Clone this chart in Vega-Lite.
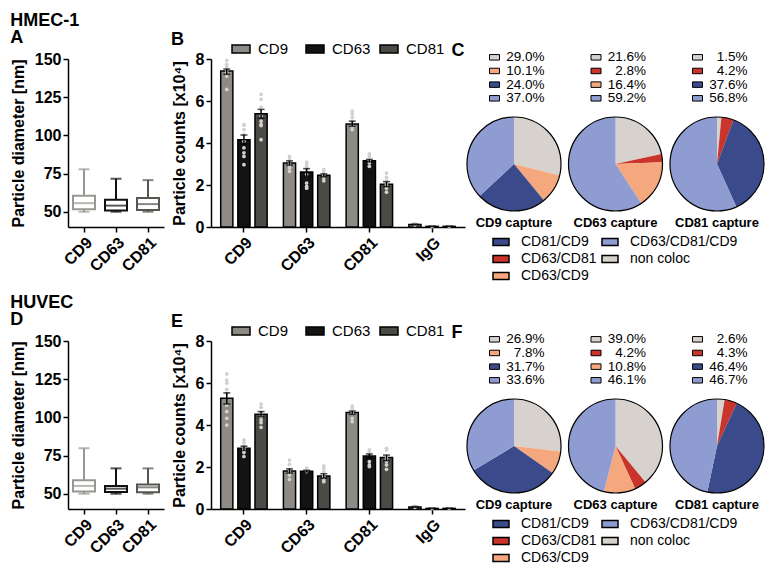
{
"$schema": "https://vega.github.io/schema/vega-lite/v6.json",
"padding": {"left": 10, "top": 12, "right": 5, "bottom": 5},
"background": "white",
"config": {
 "font": "Liberation Sans",
 "view": {"stroke": null},
 "axis": {"domainColor": "black", "domainWidth": 1.5, "tickColor": "black", "tickWidth": 1.5, "tickSize": 5, "labelFontSize": 16, "labelFontWeight": "bold", "labelColor": "black", "titleFontSize": 16, "titleFontWeight": "bold", "titleColor": "black", "grid": false, "labelPadding": 2, "titlePadding": 8},
 "axisX": {"labelAngle": -45},
 "title": {"anchor": "start", "fontSize": 18, "fontWeight": "bold", "color": "black"},
 "legend": {"labelColor": "black"}
},
"datasets": {
 "boxA": [
  {"m": "CD9", "min": 50, "q1": 51.6, "med": 55.6, "q3": 60.5, "max": 77.8},
  {"m": "CD63", "min": 50, "q1": 50.8, "med": 54, "q3": 57.8, "max": 71.6},
  {"m": "CD81", "min": 50, "q1": 51.1, "med": 55, "q3": 59, "max": 70.7}
 ],
 "boxD": [
  {"m": "CD9", "min": 50, "q1": 51.5, "med": 55.1, "q3": 58.8, "max": 79.8},
  {"m": "CD63", "min": 50, "q1": 51.1, "med": 53.3, "q3": 55.1, "max": 66.6},
  {"m": "CD81", "min": 50, "q1": 51, "med": 54.2, "q3": 56, "max": 66.6}
 ],
 "barsB": [
  {"cap": "CD9", "det": "CD9", "mean": 7.43, "lo": 7.27, "hi": 7.52},
  {"cap": "CD9", "det": "CD63", "mean": 4.16, "lo": 3.95, "hi": 4.38},
  {"cap": "CD9", "det": "CD81", "mean": 5.39, "lo": 5.18, "hi": 5.6},
  {"cap": "CD63", "det": "CD9", "mean": 3.05, "lo": 2.95, "hi": 3.15},
  {"cap": "CD63", "det": "CD63", "mean": 2.62, "lo": 2.42, "hi": 2.78},
  {"cap": "CD63", "det": "CD81", "mean": 2.46, "lo": 2.39, "hi": 2.53},
  {"cap": "CD81", "det": "CD9", "mean": 4.91, "lo": 4.8, "hi": 5.04},
  {"cap": "CD81", "det": "CD63", "mean": 3.16, "lo": 3.1, "hi": 3.22},
  {"cap": "CD81", "det": "CD81", "mean": 2.04, "lo": 1.92, "hi": 2.16},
  {"cap": "IgG", "det": "CD9", "mean": 0.12, "lo": 0.1, "hi": 0.14},
  {"cap": "IgG", "det": "CD63", "mean": 0.03, "lo": 0.02, "hi": 0.04},
  {"cap": "IgG", "det": "CD81", "mean": 0.03, "lo": 0.02, "hi": 0.04}
 ],
 "barsE": [
  {"cap": "CD9", "det": "CD9", "mean": 5.27, "lo": 5.0, "hi": 5.53},
  {"cap": "CD9", "det": "CD63", "mean": 2.89, "lo": 2.79, "hi": 2.99},
  {"cap": "CD9", "det": "CD81", "mean": 4.51, "lo": 4.4, "hi": 4.64},
  {"cap": "CD63", "det": "CD9", "mean": 1.81, "lo": 1.71, "hi": 1.91},
  {"cap": "CD63", "det": "CD63", "mean": 1.8, "lo": 1.76, "hi": 1.84},
  {"cap": "CD63", "det": "CD81", "mean": 1.57, "lo": 1.47, "hi": 1.68},
  {"cap": "CD81", "det": "CD9", "mean": 4.59, "lo": 4.51, "hi": 4.67},
  {"cap": "CD81", "det": "CD63", "mean": 2.52, "lo": 2.42, "hi": 2.62},
  {"cap": "CD81", "det": "CD81", "mean": 2.45, "lo": 2.3, "hi": 2.57},
  {"cap": "IgG", "det": "CD9", "mean": 0.1, "lo": 0.08, "hi": 0.12},
  {"cap": "IgG", "det": "CD63", "mean": 0.03, "lo": 0.02, "hi": 0.04},
  {"cap": "IgG", "det": "CD81", "mean": 0.03, "lo": 0.02, "hi": 0.04}
 ],
 "dotsB": [
  {"cap": "CD9", "det": "CD9", "v": 7.94}, {"cap": "CD9", "det": "CD9", "v": 7.75}, {"cap": "CD9", "det": "CD9", "v": 7.62}, {"cap": "CD9", "det": "CD9", "v": 7.51}, {"cap": "CD9", "det": "CD9", "v": 7.35}, {"cap": "CD9", "det": "CD9", "v": 7.19}, {"cap": "CD9", "det": "CD9", "v": 6.55},
  {"cap": "CD9", "det": "CD63", "v": 4.88}, {"cap": "CD9", "det": "CD63", "v": 4.85}, {"cap": "CD9", "det": "CD63", "v": 4.64}, {"cap": "CD9", "det": "CD63", "v": 4.4}, {"cap": "CD9", "det": "CD63", "v": 4.08}, {"cap": "CD9", "det": "CD63", "v": 3.77}, {"cap": "CD9", "det": "CD63", "v": 3.53}, {"cap": "CD9", "det": "CD63", "v": 3.36}, {"cap": "CD9", "det": "CD63", "v": 2.97},
  {"cap": "CD9", "det": "CD81", "v": 6.32}, {"cap": "CD9", "det": "CD81", "v": 6.08}, {"cap": "CD9", "det": "CD81", "v": 5.71}, {"cap": "CD9", "det": "CD81", "v": 5.28}, {"cap": "CD9", "det": "CD81", "v": 5.04}, {"cap": "CD9", "det": "CD81", "v": 4.88}, {"cap": "CD9", "det": "CD81", "v": 4.83}, {"cap": "CD9", "det": "CD81", "v": 4.16},
  {"cap": "CD63", "det": "CD9", "v": 3.36}, {"cap": "CD63", "det": "CD9", "v": 3.29}, {"cap": "CD63", "det": "CD9", "v": 3.16}, {"cap": "CD63", "det": "CD9", "v": 2.97}, {"cap": "CD63", "det": "CD9", "v": 2.81}, {"cap": "CD63", "det": "CD9", "v": 2.65},
  {"cap": "CD63", "det": "CD63", "v": 3.09}, {"cap": "CD63", "det": "CD63", "v": 3.0}, {"cap": "CD63", "det": "CD63", "v": 2.89}, {"cap": "CD63", "det": "CD63", "v": 2.73}, {"cap": "CD63", "det": "CD63", "v": 2.49}, {"cap": "CD63", "det": "CD63", "v": 2.09}, {"cap": "CD63", "det": "CD63", "v": 1.93}, {"cap": "CD63", "det": "CD63", "v": 1.85},
  {"cap": "CD63", "det": "CD81", "v": 2.73}, {"cap": "CD63", "det": "CD81", "v": 2.62}, {"cap": "CD63", "det": "CD81", "v": 2.49}, {"cap": "CD63", "det": "CD81", "v": 2.33}, {"cap": "CD63", "det": "CD81", "v": 2.2},
  {"cap": "CD81", "det": "CD9", "v": 5.52}, {"cap": "CD81", "det": "CD9", "v": 5.39}, {"cap": "CD81", "det": "CD9", "v": 5.23}, {"cap": "CD81", "det": "CD9", "v": 5.04}, {"cap": "CD81", "det": "CD9", "v": 4.8}, {"cap": "CD81", "det": "CD9", "v": 4.64},
  {"cap": "CD81", "det": "CD63", "v": 3.48}, {"cap": "CD81", "det": "CD63", "v": 3.36}, {"cap": "CD81", "det": "CD63", "v": 3.16}, {"cap": "CD81", "det": "CD63", "v": 3.05}, {"cap": "CD81", "det": "CD63", "v": 2.89},
  {"cap": "CD81", "det": "CD81", "v": 2.57}, {"cap": "CD81", "det": "CD81", "v": 2.36}, {"cap": "CD81", "det": "CD81", "v": 2.2}, {"cap": "CD81", "det": "CD81", "v": 2.01}, {"cap": "CD81", "det": "CD81", "v": 1.85}, {"cap": "CD81", "det": "CD81", "v": 1.66},
  {"cap": "IgG", "det": "CD9", "v": 0.15}, {"cap": "IgG", "det": "CD9", "v": 0.1}, {"cap": "IgG", "det": "CD63", "v": 0.02}, {"cap": "IgG", "det": "CD81", "v": 0.02}
 ],
 "dotsE": [
  {"cap": "CD9", "det": "CD9", "v": 6.43}, {"cap": "CD9", "det": "CD9", "v": 6.14}, {"cap": "CD9", "det": "CD9", "v": 5.99}, {"cap": "CD9", "det": "CD9", "v": 5.7}, {"cap": "CD9", "det": "CD9", "v": 5.51}, {"cap": "CD9", "det": "CD9", "v": 4.95}, {"cap": "CD9", "det": "CD9", "v": 4.64}, {"cap": "CD9", "det": "CD9", "v": 4.32}, {"cap": "CD9", "det": "CD9", "v": 4.0},
  {"cap": "CD9", "det": "CD63", "v": 3.29}, {"cap": "CD9", "det": "CD63", "v": 3.16}, {"cap": "CD9", "det": "CD63", "v": 3.0}, {"cap": "CD9", "det": "CD63", "v": 2.84}, {"cap": "CD9", "det": "CD63", "v": 2.78}, {"cap": "CD9", "det": "CD63", "v": 2.69}, {"cap": "CD9", "det": "CD63", "v": 2.5},
  {"cap": "CD9", "det": "CD81", "v": 5.0}, {"cap": "CD9", "det": "CD81", "v": 4.84}, {"cap": "CD9", "det": "CD81", "v": 4.59}, {"cap": "CD9", "det": "CD81", "v": 4.4}, {"cap": "CD9", "det": "CD81", "v": 4.24}, {"cap": "CD9", "det": "CD81", "v": 4.11}, {"cap": "CD9", "det": "CD81", "v": 3.89},
  {"cap": "CD63", "det": "CD9", "v": 2.33}, {"cap": "CD63", "det": "CD9", "v": 2.13}, {"cap": "CD63", "det": "CD9", "v": 1.89}, {"cap": "CD63", "det": "CD9", "v": 1.73}, {"cap": "CD63", "det": "CD9", "v": 1.62}, {"cap": "CD63", "det": "CD9", "v": 1.41},
  {"cap": "CD63", "det": "CD63", "v": 1.95}, {"cap": "CD63", "det": "CD63", "v": 1.87}, {"cap": "CD63", "det": "CD63", "v": 1.82}, {"cap": "CD63", "det": "CD63", "v": 1.78},
  {"cap": "CD63", "det": "CD81", "v": 2.05}, {"cap": "CD63", "det": "CD81", "v": 1.94}, {"cap": "CD63", "det": "CD81", "v": 1.78}, {"cap": "CD63", "det": "CD81", "v": 1.54}, {"cap": "CD63", "det": "CD81", "v": 1.38}, {"cap": "CD63", "det": "CD81", "v": 1.3},
  {"cap": "CD81", "det": "CD9", "v": 4.9}, {"cap": "CD81", "det": "CD9", "v": 4.8}, {"cap": "CD81", "det": "CD9", "v": 4.56}, {"cap": "CD81", "det": "CD9", "v": 4.32}, {"cap": "CD81", "det": "CD9", "v": 4.16},
  {"cap": "CD81", "det": "CD63", "v": 2.81}, {"cap": "CD81", "det": "CD63", "v": 2.73}, {"cap": "CD81", "det": "CD63", "v": 2.65}, {"cap": "CD81", "det": "CD63", "v": 2.26}, {"cap": "CD81", "det": "CD63", "v": 2.1}, {"cap": "CD81", "det": "CD63", "v": 2.02},
  {"cap": "CD81", "det": "CD81", "v": 2.89}, {"cap": "CD81", "det": "CD81", "v": 2.81}, {"cap": "CD81", "det": "CD81", "v": 2.41}, {"cap": "CD81", "det": "CD81", "v": 2.26}, {"cap": "CD81", "det": "CD81", "v": 2.1}, {"cap": "CD81", "det": "CD81", "v": 1.89},
  {"cap": "IgG", "det": "CD9", "v": 0.12}, {"cap": "IgG", "det": "CD9", "v": 0.08}, {"cap": "IgG", "det": "CD63", "v": 0.02}, {"cap": "IgG", "det": "CD81", "v": 0.02}
 ],
 "pieC": [
  {"cap": "CD9 capture", "cat": "non coloc", "pct": 29.0, "lab": "29.0%", "ord": 1},
  {"cap": "CD9 capture", "cat": "CD63/CD9", "pct": 10.1, "lab": "10.1%", "ord": 2},
  {"cap": "CD9 capture", "cat": "CD81/CD9", "pct": 24.0, "lab": "24.0%", "ord": 3},
  {"cap": "CD9 capture", "cat": "CD63/CD81/CD9", "pct": 37.0, "lab": "37.0%", "ord": 4},
  {"cap": "CD63 capture", "cat": "non coloc", "pct": 21.6, "lab": "21.6%", "ord": 1},
  {"cap": "CD63 capture", "cat": "CD63/CD81", "pct": 2.8, "lab": "2.8%", "ord": 2},
  {"cap": "CD63 capture", "cat": "CD63/CD9", "pct": 16.4, "lab": "16.4%", "ord": 3},
  {"cap": "CD63 capture", "cat": "CD63/CD81/CD9", "pct": 59.2, "lab": "59.2%", "ord": 4},
  {"cap": "CD81 capture", "cat": "non coloc", "pct": 1.5, "lab": "1.5%", "ord": 1},
  {"cap": "CD81 capture", "cat": "CD63/CD81", "pct": 4.2, "lab": "4.2%", "ord": 2},
  {"cap": "CD81 capture", "cat": "CD81/CD9", "pct": 37.6, "lab": "37.6%", "ord": 3},
  {"cap": "CD81 capture", "cat": "CD63/CD81/CD9", "pct": 56.8, "lab": "56.8%", "ord": 4}
 ],
 "pieF": [
  {"cap": "CD9 capture", "cat": "non coloc", "pct": 26.9, "lab": "26.9%", "ord": 1},
  {"cap": "CD9 capture", "cat": "CD63/CD9", "pct": 7.8, "lab": "7.8%", "ord": 2},
  {"cap": "CD9 capture", "cat": "CD81/CD9", "pct": 31.7, "lab": "31.7%", "ord": 3},
  {"cap": "CD9 capture", "cat": "CD63/CD81/CD9", "pct": 33.6, "lab": "33.6%", "ord": 4},
  {"cap": "CD63 capture", "cat": "non coloc", "pct": 39.0, "lab": "39.0%", "ord": 1},
  {"cap": "CD63 capture", "cat": "CD63/CD81", "pct": 4.2, "lab": "4.2%", "ord": 2},
  {"cap": "CD63 capture", "cat": "CD63/CD9", "pct": 10.8, "lab": "10.8%", "ord": 3},
  {"cap": "CD63 capture", "cat": "CD63/CD81/CD9", "pct": 46.1, "lab": "46.1%", "ord": 4},
  {"cap": "CD81 capture", "cat": "non coloc", "pct": 2.6, "lab": "2.6%", "ord": 1},
  {"cap": "CD81 capture", "cat": "CD63/CD81", "pct": 4.3, "lab": "4.3%", "ord": 2},
  {"cap": "CD81 capture", "cat": "CD81/CD9", "pct": 46.4, "lab": "46.4%", "ord": 3},
  {"cap": "CD81 capture", "cat": "CD63/CD81/CD9", "pct": 46.7, "lab": "46.7%", "ord": 4}
 ]
},
"spacing": 11,
"resolve": {"scale": {"fill": "independent", "stroke": "independent", "color": "independent", "theta": "independent"}},
"vconcat": [
 {
  "title": {"text": "HMEC-1", "offset": -1},
  "bounds": "full",
  "spacing": -14,
  "resolve": {"scale": {"fill": "independent", "stroke": "independent", "color": "independent", "theta": "independent"}},
  "hconcat": [
   {
    "bounds": "flush",
    "spacing": 47,
    "resolve": {"scale": {"fill": "independent", "stroke": "independent", "color": "independent"}},
    "hconcat": [
     {
      "title": {"text": "A", "offset": 4},
      "width": 96, "height": 168,
      "data": {"name": "boxA"},
      "encoding": {"x": {"field": "m", "type": "nominal", "sort": ["CD9", "CD63", "CD81"], "scale": {"paddingInner": 0, "paddingOuter": 0}, "axis": {"title": null}}},
      "layer": [
       {"mark": {"type": "rule", "strokeWidth": 2}, "encoding": {"y": {"field": "min", "type": "quantitative", "title": "Particle diameter [nm]", "scale": {"domain": [40, 150], "nice": false, "zero": false}, "axis": {"values": [50, 75, 100, 125, 150]}}, "y2": {"field": "max"}, "color": {"field": "m", "type": "nominal", "scale": {"domain": ["CD9", "CD63", "CD81"], "range": ["#9a9792", "#111111", "#575550"]}, "legend": null}}},
       {"mark": {"type": "bar", "size": 22, "fill": "white", "strokeWidth": 2}, "encoding": {"y": {"field": "q1", "type": "quantitative", "title": "Particle diameter [nm]"}, "y2": {"field": "q3"}, "stroke": {"field": "m", "type": "nominal", "scale": {"domain": ["CD9", "CD63", "CD81"], "range": ["#9a9792", "#111111", "#575550"]}, "legend": null}}},
       {"mark": {"type": "tick", "size": 22, "thickness": 2}, "encoding": {"y": {"field": "med", "type": "quantitative", "title": "Particle diameter [nm]"}, "color": {"field": "m", "type": "nominal", "legend": null}}},
       {"mark": {"type": "tick", "size": 11, "thickness": 2}, "encoding": {"y": {"field": "max", "type": "quantitative", "title": "Particle diameter [nm]"}, "color": {"field": "m", "type": "nominal", "legend": null}}},
       {"mark": {"type": "tick", "size": 11, "thickness": 2}, "encoding": {"y": {"field": "min", "type": "quantitative", "title": "Particle diameter [nm]"}, "color": {"field": "m", "type": "nominal", "legend": null}}}
      ]
     },
     {
      "title": {"text": "B", "offset": -10},
      "width": 254, "height": 168,
      "encoding": {
       "x": {"field": "cap", "type": "nominal", "sort": ["CD9", "CD63", "CD81", "IgG"], "scale": {"paddingInner": 0.15, "paddingOuter": 0.1}, "axis": {"title": null}},
       "xOffset": {"field": "det", "type": "nominal", "sort": ["CD9", "CD63", "CD81"], "scale": {"paddingInner": 0.29, "paddingOuter": 0.2}}
      },
      "layer": [
       {"data": {"name": "barsB"}, "mark": {"type": "bar", "stroke": "black", "strokeWidth": 1.5}, "encoding": {"y": {"field": "mean", "type": "quantitative", "title": "Particle counts [x10⁴]", "scale": {"domain": [0, 8], "nice": false}, "axis": {"values": [0, 2, 4, 6, 8]}}, "fill": {"field": "det", "type": "nominal", "sort": ["CD9", "CD63", "CD81"], "scale": {"domain": ["CD9", "CD63", "CD81"], "range": ["#8e8b87", "#141313", "#4b4a46"]}, "legend": {"title": null, "orient": "none", "direction": "horizontal", "legendX": 20, "legendY": -20, "symbolType": "M-1,-0.45L1,-0.45L1,0.45L-1,0.45Z", "symbolSize": 324, "symbolStrokeColor": "black", "symbolStrokeWidth": 1.5, "labelFontSize": 15, "labelOffset": 7, "columnPadding": 6, "gridAlign": "all"}}}},
       {"data": {"name": "dotsB"}, "mark": {"type": "point", "filled": true, "size": 14, "color": "#d4d0cc", "opacity": 1}, "encoding": {"y": {"field": "v", "type": "quantitative", "title": "Particle counts [x10⁴]"}}},
       {"data": {"name": "barsB"}, "mark": {"type": "rule", "color": "black", "strokeWidth": 1.5}, "encoding": {"y": {"field": "lo", "type": "quantitative", "title": "Particle counts [x10⁴]"}, "y2": {"field": "hi"}}},
       {"data": {"name": "barsB"}, "mark": {"type": "tick", "color": "black", "size": 7, "thickness": 1.5}, "encoding": {"y": {"field": "lo", "type": "quantitative", "title": "Particle counts [x10⁴]"}}},
       {"data": {"name": "barsB"}, "mark": {"type": "tick", "color": "black", "size": 7, "thickness": 1.5}, "encoding": {"y": {"field": "hi", "type": "quantitative", "title": "Particle counts [x10⁴]"}}}
      ]
     }
    ]
   },
   {
    "title": {"text": "C", "dx": -13, "offset": -10},
    "spacing": 2,
    "resolve": {"scale": {"fill": "independent", "theta": "independent"}},
    "vconcat": [
     {
      "spacing": 1.5,
      "resolve": {"scale": {"fill": "independent", "theta": "independent"}},
      "hconcat": [
       {"spacing": 9, "resolve": {"scale": {"fill": "independent"}}, "vconcat": [
        {"width": 94, "height": 45, "data": {"name": "pieC"}, "transform": [{"filter": "datum.cap === 'CD9 capture'"}],
         "encoding": {"y": {"field": "ord", "type": "quantitative", "axis": null, "scale": {"domain": [1.1244, 4.4171], "reverse": true, "nice": false, "zero": false}}},
         "layer": [
          {"mark": {"type": "point", "shape": "M-1,-0.55L1,-0.55L1,0.55L-1,0.55Z", "size": 100, "filled": true, "stroke": "black", "strokeWidth": 1, "opacity": 1}, "encoding": {"x": {"datum": 0, "type": "quantitative", "scale": {"domain": [-0.55, 1.33], "nice": false, "zero": false}, "axis": null}, "fill": {"field": "cat", "type": "nominal", "scale": {"domain": ["CD81/CD9", "CD63/CD81", "CD63/CD9", "CD63/CD81/CD9", "non coloc"], "range": ["#3a4a8a", "#c9342b", "#f5a87d", "#8e9cd2", "#d7d2cd"]}, "legend": null}}},
          {"mark": {"type": "text", "align": "right", "baseline": "middle", "fontSize": 13.5}, "encoding": {"x": {"datum": 1, "type": "quantitative", "axis": null}, "text": {"field": "lab"}}}
         ]},
        {"width": 94, "height": 94, "title": {"text": "CD9 capture", "orient": "bottom", "anchor": "middle", "fontSize": 13, "offset": 4}, "data": {"name": "pieC"}, "transform": [{"filter": "datum.cap === 'CD9 capture'"}],
         "layer": [
          {"mark": {"type": "arc"}, "encoding": {"theta": {"field": "pct", "type": "quantitative"}, "order": {"field": "ord", "type": "quantitative"}, "fill": {"field": "cat", "type": "nominal", "scale": {"domain": ["CD81/CD9", "CD63/CD81", "CD63/CD9", "CD63/CD81/CD9", "non coloc"], "range": ["#3a4a8a", "#c9342b", "#f5a87d", "#8e9cd2", "#d7d2cd"]}, "legend": null}}},
          {"transform": [{"aggregate": [{"op": "sum", "field": "pct", "as": "pct"}]}], "mark": {"type": "arc", "fillOpacity": 0, "stroke": "black", "strokeWidth": 1.2}, "encoding": {"theta": {"field": "pct", "type": "quantitative"}}}
         ]}
       ]},
       {"spacing": 9, "resolve": {"scale": {"fill": "independent"}}, "vconcat": [
        {"width": 94, "height": 45, "data": {"name": "pieC"}, "transform": [{"filter": "datum.cap === 'CD63 capture'"}],
         "encoding": {"y": {"field": "ord", "type": "quantitative", "axis": null, "scale": {"domain": [1.1244, 4.4171], "reverse": true, "nice": false, "zero": false}}},
         "layer": [
          {"mark": {"type": "point", "shape": "M-1,-0.55L1,-0.55L1,0.55L-1,0.55Z", "size": 100, "filled": true, "stroke": "black", "strokeWidth": 1, "opacity": 1}, "encoding": {"x": {"datum": 0, "type": "quantitative", "scale": {"domain": [-0.55, 1.33], "nice": false, "zero": false}, "axis": null}, "fill": {"field": "cat", "type": "nominal", "scale": {"domain": ["CD81/CD9", "CD63/CD81", "CD63/CD9", "CD63/CD81/CD9", "non coloc"], "range": ["#3a4a8a", "#c9342b", "#f5a87d", "#8e9cd2", "#d7d2cd"]}, "legend": null}}},
          {"mark": {"type": "text", "align": "right", "baseline": "middle", "fontSize": 13.5}, "encoding": {"x": {"datum": 1, "type": "quantitative", "axis": null}, "text": {"field": "lab"}}}
         ]},
        {"width": 94, "height": 94, "title": {"text": "CD63 capture", "orient": "bottom", "anchor": "middle", "fontSize": 13, "offset": 4}, "data": {"name": "pieC"}, "transform": [{"filter": "datum.cap === 'CD63 capture'"}],
         "layer": [
          {"mark": {"type": "arc"}, "encoding": {"theta": {"field": "pct", "type": "quantitative"}, "order": {"field": "ord", "type": "quantitative"}, "fill": {"field": "cat", "type": "nominal", "scale": {"domain": ["CD81/CD9", "CD63/CD81", "CD63/CD9", "CD63/CD81/CD9", "non coloc"], "range": ["#3a4a8a", "#c9342b", "#f5a87d", "#8e9cd2", "#d7d2cd"]}, "legend": null}}},
          {"transform": [{"aggregate": [{"op": "sum", "field": "pct", "as": "pct"}]}], "mark": {"type": "arc", "fillOpacity": 0, "stroke": "black", "strokeWidth": 1.2}, "encoding": {"theta": {"field": "pct", "type": "quantitative"}}}
         ]}
       ]},
       {"spacing": 9, "resolve": {"scale": {"fill": "independent"}}, "vconcat": [
        {"width": 94, "height": 45, "data": {"name": "pieC"}, "transform": [{"filter": "datum.cap === 'CD81 capture'"}],
         "encoding": {"y": {"field": "ord", "type": "quantitative", "axis": null, "scale": {"domain": [1.1244, 4.4171], "reverse": true, "nice": false, "zero": false}}},
         "layer": [
          {"mark": {"type": "point", "shape": "M-1,-0.55L1,-0.55L1,0.55L-1,0.55Z", "size": 100, "filled": true, "stroke": "black", "strokeWidth": 1, "opacity": 1}, "encoding": {"x": {"datum": 0, "type": "quantitative", "scale": {"domain": [-0.55, 1.33], "nice": false, "zero": false}, "axis": null}, "fill": {"field": "cat", "type": "nominal", "scale": {"domain": ["CD81/CD9", "CD63/CD81", "CD63/CD9", "CD63/CD81/CD9", "non coloc"], "range": ["#3a4a8a", "#c9342b", "#f5a87d", "#8e9cd2", "#d7d2cd"]}, "legend": null}}},
          {"mark": {"type": "text", "align": "right", "baseline": "middle", "fontSize": 13.5}, "encoding": {"x": {"datum": 1, "type": "quantitative", "axis": null}, "text": {"field": "lab"}}}
         ]},
        {"width": 94, "height": 94, "title": {"text": "CD81 capture", "orient": "bottom", "anchor": "middle", "fontSize": 13, "offset": 4}, "data": {"name": "pieC"}, "transform": [{"filter": "datum.cap === 'CD81 capture'"}],
         "layer": [
          {"mark": {"type": "arc"}, "encoding": {"theta": {"field": "pct", "type": "quantitative"}, "order": {"field": "ord", "type": "quantitative"}, "fill": {"field": "cat", "type": "nominal", "scale": {"domain": ["CD81/CD9", "CD63/CD81", "CD63/CD9", "CD63/CD81/CD9", "non coloc"], "range": ["#3a4a8a", "#c9342b", "#f5a87d", "#8e9cd2", "#d7d2cd"]}, "legend": null}}},
          {"transform": [{"aggregate": [{"op": "sum", "field": "pct", "as": "pct"}]}], "mark": {"type": "arc", "fillOpacity": 0, "stroke": "black", "strokeWidth": 1.2}, "encoding": {"theta": {"field": "pct", "type": "quantitative"}}}
         ]}
       ]}
      ]
     },
     {"width": 290, "height": 1, "data": {"name": "pieC"},
      "mark": {"type": "point", "size": 0, "opacity": 0, "filled": true},
      "encoding": {"fill": {"field": "cat", "type": "nominal", "scale": {"domain": ["CD81/CD9", "CD63/CD81", "CD63/CD9", "CD63/CD81/CD9", "non coloc"], "range": ["#3a4a8a", "#c9342b", "#f5a87d", "#8e9cd2", "#d7d2cd"]}, "legend": {"title": null, "orient": "none", "legendX": 25, "legendY": 0, "columns": 2, "symbolType": "M-1,-0.45L1,-0.45L1,0.45L-1,0.45Z", "symbolSize": 256, "symbolOpacity": 1, "symbolStrokeColor": "black", "symbolStrokeWidth": 1.5, "labelFontSize": 14, "labelOffset": 11, "columnPadding": 2, "rowPadding": 1}}}}
    ]
   }
  ]
 },
 {
  "title": {"text": "HUVEC", "offset": -1},
  "bounds": "full",
  "spacing": -14,
  "resolve": {"scale": {"fill": "independent", "stroke": "independent", "color": "independent", "theta": "independent"}},
  "hconcat": [
   {
    "bounds": "flush",
    "spacing": 47,
    "resolve": {"scale": {"fill": "independent", "stroke": "independent", "color": "independent"}},
    "hconcat": [
     {
      "title": {"text": "D", "offset": 4},
      "width": 96, "height": 168,
      "data": {"name": "boxD"},
      "encoding": {"x": {"field": "m", "type": "nominal", "sort": ["CD9", "CD63", "CD81"], "scale": {"paddingInner": 0, "paddingOuter": 0}, "axis": {"title": null}}},
      "layer": [
       {"mark": {"type": "rule", "strokeWidth": 2}, "encoding": {"y": {"field": "min", "type": "quantitative", "title": "Particle diameter [nm]", "scale": {"domain": [40, 150], "nice": false, "zero": false}, "axis": {"values": [50, 75, 100, 125, 150]}}, "y2": {"field": "max"}, "color": {"field": "m", "type": "nominal", "scale": {"domain": ["CD9", "CD63", "CD81"], "range": ["#9a9792", "#111111", "#575550"]}, "legend": null}}},
       {"mark": {"type": "bar", "size": 22, "fill": "white", "strokeWidth": 2}, "encoding": {"y": {"field": "q1", "type": "quantitative", "title": "Particle diameter [nm]"}, "y2": {"field": "q3"}, "stroke": {"field": "m", "type": "nominal", "scale": {"domain": ["CD9", "CD63", "CD81"], "range": ["#9a9792", "#111111", "#575550"]}, "legend": null}}},
       {"mark": {"type": "tick", "size": 22, "thickness": 2}, "encoding": {"y": {"field": "med", "type": "quantitative", "title": "Particle diameter [nm]"}, "color": {"field": "m", "type": "nominal", "legend": null}}},
       {"mark": {"type": "tick", "size": 11, "thickness": 2}, "encoding": {"y": {"field": "max", "type": "quantitative", "title": "Particle diameter [nm]"}, "color": {"field": "m", "type": "nominal", "legend": null}}},
       {"mark": {"type": "tick", "size": 11, "thickness": 2}, "encoding": {"y": {"field": "min", "type": "quantitative", "title": "Particle diameter [nm]"}, "color": {"field": "m", "type": "nominal", "legend": null}}}
      ]
     },
     {
      "title": {"text": "E", "offset": -10},
      "width": 254, "height": 168,
      "encoding": {
       "x": {"field": "cap", "type": "nominal", "sort": ["CD9", "CD63", "CD81", "IgG"], "scale": {"paddingInner": 0.15, "paddingOuter": 0.1}, "axis": {"title": null}},
       "xOffset": {"field": "det", "type": "nominal", "sort": ["CD9", "CD63", "CD81"], "scale": {"paddingInner": 0.29, "paddingOuter": 0.2}}
      },
      "layer": [
       {"data": {"name": "barsE"}, "mark": {"type": "bar", "stroke": "black", "strokeWidth": 1.5}, "encoding": {"y": {"field": "mean", "type": "quantitative", "title": "Particle counts [x10⁴]", "scale": {"domain": [0, 8], "nice": false}, "axis": {"values": [0, 2, 4, 6, 8]}}, "fill": {"field": "det", "type": "nominal", "sort": ["CD9", "CD63", "CD81"], "scale": {"domain": ["CD9", "CD63", "CD81"], "range": ["#8e8b87", "#141313", "#4b4a46"]}, "legend": {"title": null, "orient": "none", "direction": "horizontal", "legendX": 20, "legendY": -20, "symbolType": "M-1,-0.45L1,-0.45L1,0.45L-1,0.45Z", "symbolSize": 324, "symbolStrokeColor": "black", "symbolStrokeWidth": 1.5, "labelFontSize": 15, "labelOffset": 7, "columnPadding": 6, "gridAlign": "all"}}}},
       {"data": {"name": "dotsE"}, "mark": {"type": "point", "filled": true, "size": 14, "color": "#d4d0cc", "opacity": 1}, "encoding": {"y": {"field": "v", "type": "quantitative", "title": "Particle counts [x10⁴]"}}},
       {"data": {"name": "barsE"}, "mark": {"type": "rule", "color": "black", "strokeWidth": 1.5}, "encoding": {"y": {"field": "lo", "type": "quantitative", "title": "Particle counts [x10⁴]"}, "y2": {"field": "hi"}}},
       {"data": {"name": "barsE"}, "mark": {"type": "tick", "color": "black", "size": 7, "thickness": 1.5}, "encoding": {"y": {"field": "lo", "type": "quantitative", "title": "Particle counts [x10⁴]"}}},
       {"data": {"name": "barsE"}, "mark": {"type": "tick", "color": "black", "size": 7, "thickness": 1.5}, "encoding": {"y": {"field": "hi", "type": "quantitative", "title": "Particle counts [x10⁴]"}}}
      ]
     }
    ]
   },
   {
    "title": {"text": "F", "dx": -13, "offset": -10},
    "spacing": 2,
    "resolve": {"scale": {"fill": "independent", "theta": "independent"}},
    "vconcat": [
     {
      "spacing": 1.5,
      "resolve": {"scale": {"fill": "independent", "theta": "independent"}},
      "hconcat": [
       {"spacing": 9, "resolve": {"scale": {"fill": "independent"}}, "vconcat": [
        {"width": 94, "height": 45, "data": {"name": "pieF"}, "transform": [{"filter": "datum.cap === 'CD9 capture'"}],
         "encoding": {"y": {"field": "ord", "type": "quantitative", "axis": null, "scale": {"domain": [1.1244, 4.4171], "reverse": true, "nice": false, "zero": false}}},
         "layer": [
          {"mark": {"type": "point", "shape": "M-1,-0.55L1,-0.55L1,0.55L-1,0.55Z", "size": 100, "filled": true, "stroke": "black", "strokeWidth": 1, "opacity": 1}, "encoding": {"x": {"datum": 0, "type": "quantitative", "scale": {"domain": [-0.55, 1.33], "nice": false, "zero": false}, "axis": null}, "fill": {"field": "cat", "type": "nominal", "scale": {"domain": ["CD81/CD9", "CD63/CD81", "CD63/CD9", "CD63/CD81/CD9", "non coloc"], "range": ["#3a4a8a", "#c9342b", "#f5a87d", "#8e9cd2", "#d7d2cd"]}, "legend": null}}},
          {"mark": {"type": "text", "align": "right", "baseline": "middle", "fontSize": 13.5}, "encoding": {"x": {"datum": 1, "type": "quantitative", "axis": null}, "text": {"field": "lab"}}}
         ]},
        {"width": 94, "height": 94, "title": {"text": "CD9 capture", "orient": "bottom", "anchor": "middle", "fontSize": 13, "offset": 4}, "data": {"name": "pieF"}, "transform": [{"filter": "datum.cap === 'CD9 capture'"}],
         "layer": [
          {"mark": {"type": "arc"}, "encoding": {"theta": {"field": "pct", "type": "quantitative"}, "order": {"field": "ord", "type": "quantitative"}, "fill": {"field": "cat", "type": "nominal", "scale": {"domain": ["CD81/CD9", "CD63/CD81", "CD63/CD9", "CD63/CD81/CD9", "non coloc"], "range": ["#3a4a8a", "#c9342b", "#f5a87d", "#8e9cd2", "#d7d2cd"]}, "legend": null}}},
          {"transform": [{"aggregate": [{"op": "sum", "field": "pct", "as": "pct"}]}], "mark": {"type": "arc", "fillOpacity": 0, "stroke": "black", "strokeWidth": 1.2}, "encoding": {"theta": {"field": "pct", "type": "quantitative"}}}
         ]}
       ]},
       {"spacing": 9, "resolve": {"scale": {"fill": "independent"}}, "vconcat": [
        {"width": 94, "height": 45, "data": {"name": "pieF"}, "transform": [{"filter": "datum.cap === 'CD63 capture'"}],
         "encoding": {"y": {"field": "ord", "type": "quantitative", "axis": null, "scale": {"domain": [1.1244, 4.4171], "reverse": true, "nice": false, "zero": false}}},
         "layer": [
          {"mark": {"type": "point", "shape": "M-1,-0.55L1,-0.55L1,0.55L-1,0.55Z", "size": 100, "filled": true, "stroke": "black", "strokeWidth": 1, "opacity": 1}, "encoding": {"x": {"datum": 0, "type": "quantitative", "scale": {"domain": [-0.55, 1.33], "nice": false, "zero": false}, "axis": null}, "fill": {"field": "cat", "type": "nominal", "scale": {"domain": ["CD81/CD9", "CD63/CD81", "CD63/CD9", "CD63/CD81/CD9", "non coloc"], "range": ["#3a4a8a", "#c9342b", "#f5a87d", "#8e9cd2", "#d7d2cd"]}, "legend": null}}},
          {"mark": {"type": "text", "align": "right", "baseline": "middle", "fontSize": 13.5}, "encoding": {"x": {"datum": 1, "type": "quantitative", "axis": null}, "text": {"field": "lab"}}}
         ]},
        {"width": 94, "height": 94, "title": {"text": "CD63 capture", "orient": "bottom", "anchor": "middle", "fontSize": 13, "offset": 4}, "data": {"name": "pieF"}, "transform": [{"filter": "datum.cap === 'CD63 capture'"}],
         "layer": [
          {"mark": {"type": "arc"}, "encoding": {"theta": {"field": "pct", "type": "quantitative"}, "order": {"field": "ord", "type": "quantitative"}, "fill": {"field": "cat", "type": "nominal", "scale": {"domain": ["CD81/CD9", "CD63/CD81", "CD63/CD9", "CD63/CD81/CD9", "non coloc"], "range": ["#3a4a8a", "#c9342b", "#f5a87d", "#8e9cd2", "#d7d2cd"]}, "legend": null}}},
          {"transform": [{"aggregate": [{"op": "sum", "field": "pct", "as": "pct"}]}], "mark": {"type": "arc", "fillOpacity": 0, "stroke": "black", "strokeWidth": 1.2}, "encoding": {"theta": {"field": "pct", "type": "quantitative"}}}
         ]}
       ]},
       {"spacing": 9, "resolve": {"scale": {"fill": "independent"}}, "vconcat": [
        {"width": 94, "height": 45, "data": {"name": "pieF"}, "transform": [{"filter": "datum.cap === 'CD81 capture'"}],
         "encoding": {"y": {"field": "ord", "type": "quantitative", "axis": null, "scale": {"domain": [1.1244, 4.4171], "reverse": true, "nice": false, "zero": false}}},
         "layer": [
          {"mark": {"type": "point", "shape": "M-1,-0.55L1,-0.55L1,0.55L-1,0.55Z", "size": 100, "filled": true, "stroke": "black", "strokeWidth": 1, "opacity": 1}, "encoding": {"x": {"datum": 0, "type": "quantitative", "scale": {"domain": [-0.55, 1.33], "nice": false, "zero": false}, "axis": null}, "fill": {"field": "cat", "type": "nominal", "scale": {"domain": ["CD81/CD9", "CD63/CD81", "CD63/CD9", "CD63/CD81/CD9", "non coloc"], "range": ["#3a4a8a", "#c9342b", "#f5a87d", "#8e9cd2", "#d7d2cd"]}, "legend": null}}},
          {"mark": {"type": "text", "align": "right", "baseline": "middle", "fontSize": 13.5}, "encoding": {"x": {"datum": 1, "type": "quantitative", "axis": null}, "text": {"field": "lab"}}}
         ]},
        {"width": 94, "height": 94, "title": {"text": "CD81 capture", "orient": "bottom", "anchor": "middle", "fontSize": 13, "offset": 4}, "data": {"name": "pieF"}, "transform": [{"filter": "datum.cap === 'CD81 capture'"}],
         "layer": [
          {"mark": {"type": "arc"}, "encoding": {"theta": {"field": "pct", "type": "quantitative"}, "order": {"field": "ord", "type": "quantitative"}, "fill": {"field": "cat", "type": "nominal", "scale": {"domain": ["CD81/CD9", "CD63/CD81", "CD63/CD9", "CD63/CD81/CD9", "non coloc"], "range": ["#3a4a8a", "#c9342b", "#f5a87d", "#8e9cd2", "#d7d2cd"]}, "legend": null}}},
          {"transform": [{"aggregate": [{"op": "sum", "field": "pct", "as": "pct"}]}], "mark": {"type": "arc", "fillOpacity": 0, "stroke": "black", "strokeWidth": 1.2}, "encoding": {"theta": {"field": "pct", "type": "quantitative"}}}
         ]}
       ]}
      ]
     },
     {"width": 290, "height": 1, "data": {"name": "pieF"},
      "mark": {"type": "point", "size": 0, "opacity": 0, "filled": true},
      "encoding": {"fill": {"field": "cat", "type": "nominal", "scale": {"domain": ["CD81/CD9", "CD63/CD81", "CD63/CD9", "CD63/CD81/CD9", "non coloc"], "range": ["#3a4a8a", "#c9342b", "#f5a87d", "#8e9cd2", "#d7d2cd"]}, "legend": {"title": null, "orient": "none", "legendX": 25, "legendY": 0, "columns": 2, "symbolType": "M-1,-0.45L1,-0.45L1,0.45L-1,0.45Z", "symbolSize": 256, "symbolOpacity": 1, "symbolStrokeColor": "black", "symbolStrokeWidth": 1.5, "labelFontSize": 14, "labelOffset": 11, "columnPadding": 2, "rowPadding": 1}}}}
    ]
   }
  ]
 }
]
}
